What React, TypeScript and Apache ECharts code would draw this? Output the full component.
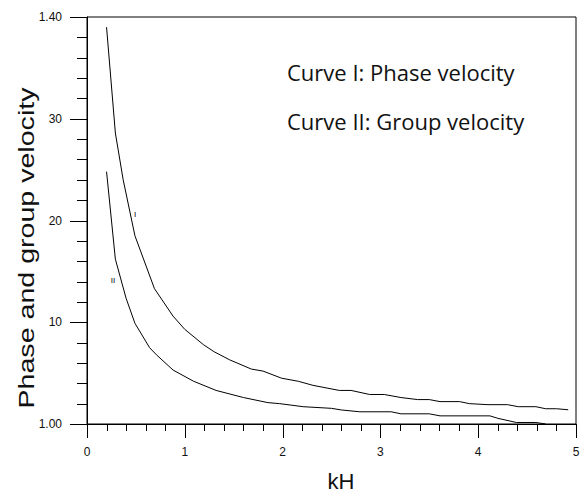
import React, { useEffect, useRef } from "react";
import * as echarts from "echarts";

// Curve I: phase velocity
const phaseKH = [0.2, 0.29, 0.37, 0.49, 0.69, 0.88, 1.0, 1.19, 1.3, 1.46, 1.68, 1.8, 1.99, 2.16, 2.31, 2.58, 2.7, 2.89, 3.04, 3.21, 3.38, 3.5, 3.61, 3.81, 3.91, 4.1, 4.3, 4.41, 4.59, 4.69, 4.8, 4.92];
const phaseV = [1.39, 1.286, 1.24, 1.185, 1.133, 1.106, 1.093, 1.078, 1.071, 1.063, 1.054, 1.052, 1.045, 1.042, 1.038, 1.033, 1.033, 1.029, 1.029, 1.026, 1.024, 1.024, 1.022, 1.022, 1.02, 1.019, 1.019, 1.017, 1.017, 1.015, 1.015, 1.014];

// Curve II: group velocity
const groupKH = [0.2, 0.29, 0.4, 0.49, 0.64, 0.71, 0.88, 1.09, 1.32, 1.6, 1.85, 1.97, 2.21, 2.5, 2.6, 2.79, 3.11, 3.21, 3.5, 3.61, 4.12, 4.2, 4.39, 4.59, 4.69];
const groupV = [1.248, 1.162, 1.1235, 1.099, 1.075, 1.068, 1.053, 1.042, 1.033, 1.026, 1.021, 1.02, 1.017, 1.0154, 1.0138, 1.012, 1.012, 1.01, 1.01, 1.008, 1.008, 1.0056, 1.0015, 1.0015, 1.0];

// Tick positions and labels
const xTickValues = [0, 1, 2, 3, 4, 5];
const xTickLabels = ["0", "1", "2", "3", "4", "5"];
const xAllTicks = [0, 0.2, 0.4, 0.6, 0.8, 1, 1.2, 1.4, 1.6, 1.8, 2, 2.2, 2.4, 2.6, 2.8, 3, 3.2, 3.4, 3.6, 3.8, 4, 4.2, 4.4, 4.6, 4.8, 5];
const yTickValues = [1.0, 1.1, 1.2, 1.3, 1.4];
const yTickLabels = ["1.00", "10", "20", "30", "1.40"];
const yAllTicks = [1.0, 1.02, 1.04, 1.06, 1.08, 1.1, 1.12, 1.14, 1.16, 1.18, 1.2, 1.22, 1.24, 1.26, 1.28, 1.3, 1.32, 1.34, 1.36, 1.38, 1.4];

const legendLines = ["Curve I: Phase velocity", "Curve II: Group velocity"];
const curveLabels = ["I", "II"];

function lookup(values: number[], labels: string[], v: number): string {
  for (let k = 0; k < values.length; k++) {
    if (Math.abs(values[k] - v) < 1e-6) return labels[k];
  }
  return "";
}
function isMajor(values: number[], v: number): boolean {
  return values.some((t) => Math.abs(t - v) < 1e-6);
}

export default function App() {
  const ref = useRef<HTMLDivElement>(null);
  useEffect(() => {
    if (!ref.current) return;
    const chart = echarts.init(ref.current, null, { renderer: "svg" });
    const axisFont = "Liberation Sans";
    const yMin = yAllTicks[0];
    const xMin = xAllTicks[0];
    chart.setOption({
      animation: false,
      backgroundColor: "#fff",
      grid: { left: 87, right: 7, top: 17, bottom: 69, show: true, borderColor: "#000", borderWidth: 1 },
      xAxis: {
        type: "value",
        min: 0,
        max: 5,
        interval: 1,
        axisLine: { show: true, lineStyle: { color: "#000", width: 1 } },
        axisTick: { show: false },
        minorTick: { show: false },
        splitLine: { show: false },
        axisLabel: {
          margin: 22,
          fontSize: 12,
          fontFamily: axisFont,
          color: "#111",
          formatter: (v: number) => lookup(xTickValues, xTickLabels, v),
        },
      },
      yAxis: {
        type: "value",
        min: 1.0,
        max: 1.4,
        interval: 0.1,
        axisLine: { show: true, lineStyle: { color: "#000", width: 1 } },
        axisTick: { show: false },
        minorTick: { show: false },
        splitLine: { show: false },
        axisLabel: {
          margin: 25,
          fontSize: 12,
          fontFamily: axisFont,
          color: "#111",
          formatter: (v: number) => lookup(yTickValues, yTickLabels, v),
        },
      },
      series: [
        {
          type: "line",
          symbol: "none",
          data: phaseKH.map((x, i) => [x, phaseV[i]]),
          lineStyle: { color: "#000", width: 1 },
          itemStyle: { color: "#000" },
        },
        {
          type: "line",
          symbol: "none",
          data: groupKH.map((x, i) => [x, groupV[i]]),
          lineStyle: { color: "#000", width: 1 },
          itemStyle: { color: "#000" },
        },
        {
          type: "custom",
          clip: false,
          silent: true,
          data: xAllTicks.map((v) => [v, yMin]),
          renderItem: (_params: any, api: any) => {
            const v = api.value(0);
            const p = api.coord([v, yMin]);
            const len = isMajor(xTickValues, v) ? 14 : 7;
            const x = Math.round(p[0]) + 0.5;
            const y = Math.round(p[1]);
            return {
              type: "line",
              shape: { x1: x, y1: y, x2: x, y2: y + len },
              style: { stroke: "#000", lineWidth: 1 },
            };
          },
        },
        {
          type: "custom",
          clip: false,
          silent: true,
          data: yAllTicks.map((v) => [xMin, v]),
          renderItem: (_params: any, api: any) => {
            const v = api.value(1);
            const p = api.coord([xMin, v]);
            const len = isMajor(yTickValues, v) ? 17 : 10;
            const x = Math.round(p[0]);
            const y = Math.round(p[1]) + 0.5;
            return {
              type: "line",
              shape: { x1: x - len, y1: y, x2: x, y2: y },
              style: { stroke: "#000", lineWidth: 1 },
            };
          },
        },
      ],
      graphic: [
        {
          type: "text",
          x: 26,
          y: 248,
          rotation: Math.PI / 2,
          scaleX: 1.3,
          style: {
            text: "Phase and group velocity",
            font: "22px Liberation Sans",
            fill: "#111",
            textAlign: "center",
            textVerticalAlign: "middle",
          },
        },
        {
          type: "text",
          x: 341,
          y: 481,
          style: {
            text: "kH",
            font: "22px Liberation Sans",
            fill: "#111",
            textAlign: "center",
            textVerticalAlign: "middle",
          },
        },
        {
          type: "text",
          x: 287,
          y: 72,
          style: {
            text: legendLines[0],
            font: "22px Open Sans",
            fill: "#111",
            textAlign: "left",
            textVerticalAlign: "middle",
          },
        },
        {
          type: "text",
          x: 287,
          y: 121,
          style: {
            text: legendLines[1],
            font: "22px Open Sans",
            fill: "#111",
            textAlign: "left",
            textVerticalAlign: "middle",
          },
        },
        {
          type: "text",
          x: 135,
          y: 214,
          style: {
            text: curveLabels[0],
            font: "8px Liberation Sans",
            fill: "#000",
            textAlign: "center",
            textVerticalAlign: "middle",
          },
        },
        {
          type: "text",
          x: 113,
          y: 280,
          style: {
            text: curveLabels[1],
            font: "8px Liberation Sans",
            fill: "#000",
            textAlign: "center",
            textVerticalAlign: "middle",
          },
        },
      ],
    });
    return () => chart.dispose();
  }, []);
  return <div ref={ref} style={{ position: "fixed", left: 0, top: 0, width: 583, height: 493 }} />;
}
